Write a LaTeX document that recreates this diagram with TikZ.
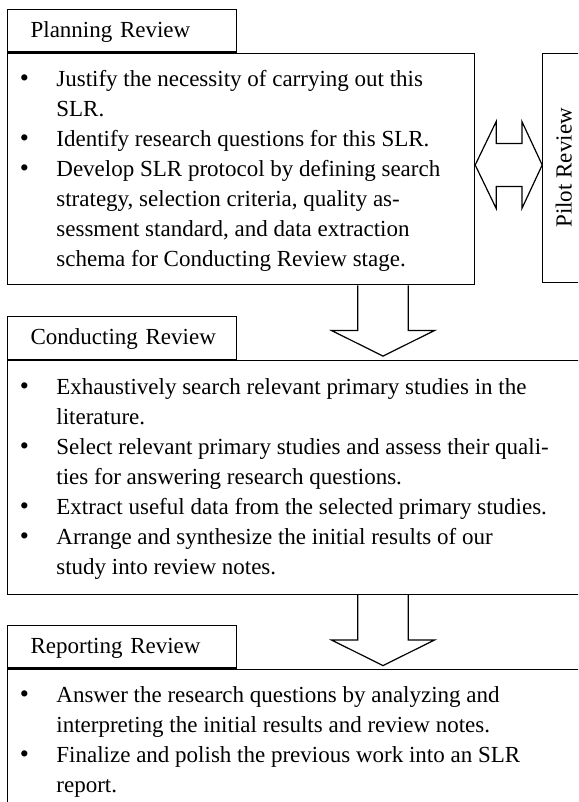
\documentclass[tikz,border=0pt]{standalone}
\usepackage{fontspec}
\setmainfont{Liberation Serif}
\usepackage{array}
\usetikzlibrary{positioning}

\tikzset{
  tab/.style={draw, line width=0.6pt, anchor=north west, inner xsep=11.5pt, inner ysep=0pt,
    text width=91.5pt, minimum height=21.2pt, text height=7.05pt, text depth=0pt, align=left,
    execute at begin node={\hyphenpenalty=10000\hbadness=10000\hfuzz=20pt}},
  body/.style={draw, line width=0.6pt, anchor=north west, inner sep=0pt},
  items/.style={inner sep=0pt},
  downarrow/.pic={
    \draw[line width=0.6pt] (-12.65pt,0) -- (-12.65pt,-22.5pt) -- (-25.85pt,-22.5pt) -- (0,-35.35pt)
      -- (25.85pt,-22.5pt) -- (12.65pt,-22.5pt) -- (12.65pt,0);
  }
}
\newcommand{\steplist}[1]{\begin{tabular}{@{}>{\centering\arraybackslash}p{17pt}@{\hspace{7.5pt}}l@{}}#1\end{tabular}}
\newcommand{\bul}{{\fontsize{13}{15}\selectfont\textbullet}}

\begin{document}
\begin{tikzpicture}[font=\fontsize{11.5}{15}\selectfont]
  \useasboundingbox (0,0) rectangle (289pt,-401pt);
  \clip (0,0) rectangle (289pt,-401pt);

  \node[tab] (plantab) at (3.5pt,-4.5pt) {Planning~Review};
  \node[body, minimum width=233.5pt, minimum height=115.8pt, below=0pt of plantab.south west, anchor=north west] (planbody) {};
  \node[items, below right=6.5pt and 0pt of planbody.north west] (plantext) {\steplist{
    \bul & Justify the necessity of carrying out this\\
         & SLR.\\
    \bul & Identify research questions for this SLR.\\
    \bul & Develop SLR protocol by defining search\\
         & strategy, selection criteria, quality as-\\
         & sessment standard, and data extraction\\
         & schema for Conducting Review stage.}};

  \node[body, minimum width=21pt, minimum height=114.65pt, right=33.5pt of planbody.north east, anchor=north west] (pilot) {\rotatebox{90}{Pilot Review}};
  \draw[line width=0.6pt, shift={(planbody.east)}, yshift=2pt]
    (0,0) -- (10.5pt,21.75pt) -- (10.5pt,10.75pt) -- (23.35pt,10.75pt) -- (23.35pt,21.75pt) -- (33.5pt,0)
    -- (23.35pt,-21.75pt) -- (23.35pt,-10.75pt) -- (10.5pt,-10.75pt) -- (10.5pt,-21.75pt) -- cycle;

  \node[tab, below=15.35pt of planbody.south west, anchor=north west] (condtab) {Conducting~Review};
  \node[body, minimum width=300pt, minimum height=117pt, below=0pt of condtab.south west, anchor=north west] (condbody) {};
  \node[items, below right=6.5pt and 0pt of condbody.north west] (condtext) {\steplist{
    \bul & Exhaustively search relevant primary studies in the\\
         & literature.\\
    \bul & Select relevant primary studies and assess their quali-\\
         & ties for answering research questions.\\
    \bul & Extract useful data from the selected primary studies.\\
    \bul & Arrange and synthesize the initial results of our\\
         & study into review notes.}};

  \node[tab, below=15pt of condbody.south west, anchor=north west] (reptab) {Reporting~Review};
  \node[body, minimum width=300pt, minimum height=90pt, below=0pt of reptab.south west, anchor=north west] (repbody) {};
  \node[items, below right=6.5pt and 0pt of repbody.north west] (reptext) {\steplist{
    \bul & Answer the research questions by analyzing and\\
         & interpreting the initial results and review notes.\\
    \bul & Finalize and polish the previous work into an SLR\\
         & report.}};

  \coordinate[right=188pt of planbody.south west] (down1);
  \coordinate[right=188pt of condbody.south west] (down2);
  \pic at (down1) {downarrow};
  \pic at (down2) {downarrow};
\end{tikzpicture}
\end{document}
